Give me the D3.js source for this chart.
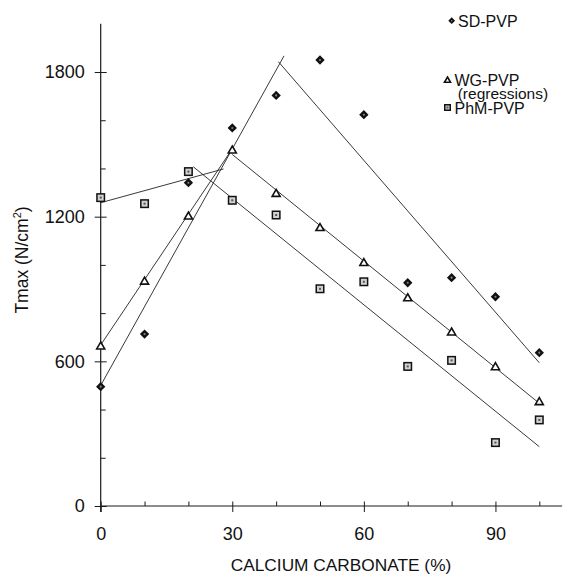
<!DOCTYPE html>
<html>
<head>
<meta charset="utf-8">
<script src="https://cdn.jsdelivr.net/npm/d3@7"></script>
<style>
  html, body { margin: 0; padding: 0; background: #fff; }
  svg { display: block; }
  text { font-family: "Liberation Sans", Arial, Helvetica, sans-serif; fill: #111; }
</style>
</head>
<body>
<svg id="chart" width="575" height="575"></svg>
<script>
// Calcium carbonate content (%) of each formulation
const concentrations = [0, 10, 20, 30, 40, 50, 60, 70, 80, 90, 100];

// Maximum tensile strength Tmax (N/cm²) per binder
const sdValues  = [495, 713, 1341, 1568, 1703, 1850, 1623, 926, 947, 868, 636];
const wgValues  = [661, 930, 1200, 1474, 1294, 1152, 1007, 861, 719, 575, 430];
const phmValues = [1279, 1254, 1387, 1268, 1207, 901, 930, 579, 604, 263, 357];

// Regression segments (rising and falling branch) as [x, Tmax] end points
const sdFit  = [[[0, 500], [41.8, 1867]], [[40.5, 1843], [100, 594]]];
const wgFit  = [[[0, 668], [29.5, 1468]], [[30, 1458], [100, 426]]];
const phmFit = [[[0, 1258], [28, 1398]], [[21.1, 1407], [100, 246]]];

// Axis ticks
const xMajorTicks = [0, 30, 60, 90];
const xMinorTicks = [10, 20, 40, 50, 70, 80, 100];
const yMajorTicks = [0, 600, 1200, 1800];
const yMinorTicks = [200, 400, 800, 1000, 1400, 1600];

const legendLabels = ["SD-PVP", "WG-PVP", "(regressions)", "PhM-PVP"];

const svg = d3.select("#chart");

const x = d3.scaleLinear().domain([0, 100]).range([100.7, 539.3]);
const y = d3.scaleLinear().domain([0, 2000]).range([506, 23.8]);

const axisColor = "#1a1a1a";
const fontFam = '"Liberation Sans", Arial, sans-serif';

// ---- axes ----
const gx = svg.append("g").attr("transform", `translate(0,${y(0)})`);
gx.call(d3.axisBottom(x).tickValues(xMajorTicks).tickFormat(d3.format("d"))
  .tickSizeInner(6).tickSizeOuter(0).tickPadding(15));
gx.select(".domain").remove();
gx.append("line")
  .attr("x1", x(0)).attr("x2", x(105.2))
  .attr("stroke", axisColor).attr("stroke-width", 1);
gx.selectAll(".tick line").attr("stroke", axisColor).attr("y1", -4.5);
gx.selectAll(".tick text").attr("font-size", 18).attr("fill", "#111").style("font-family", fontFam);

const gxMinor = svg.append("g").attr("transform", `translate(0,${y(0)})`);
gxMinor.call(d3.axisBottom(x).tickValues(xMinorTicks).tickSizeInner(-4.5).tickSizeOuter(0).tickFormat(""));
gxMinor.select(".domain").remove();
gxMinor.selectAll(".tick line").attr("stroke", axisColor);

const gy = svg.append("g").attr("transform", `translate(${x(0)},0)`);
gy.call(d3.axisLeft(y).tickValues(yMajorTicks).tickFormat(d3.format("d"))
  .tickSizeInner(6).tickSizeOuter(0).tickPadding(10));
gy.select(".domain").remove();
gy.append("line")
  .attr("y1", y(0)).attr("y2", y(2000))
  .attr("stroke", axisColor).attr("stroke-width", 1.2);
gy.selectAll(".tick line").attr("stroke", axisColor).attr("x2", 6).attr("x1", -6);
gy.selectAll(".tick text").attr("font-size", 18).attr("fill", "#111").style("font-family", fontFam);

const gyMinor = svg.append("g").attr("transform", `translate(${x(0)},0)`);
gyMinor.call(d3.axisLeft(y).tickValues(yMinorTicks).tickSizeInner(-5).tickSizeOuter(0).tickFormat(""));
gyMinor.select(".domain").remove();
gyMinor.selectAll(".tick line").attr("stroke", axisColor);

// x tick at 0 also extends below the axis line
svg.append("line")
  .attr("x1", x(0)).attr("x2", x(0))
  .attr("y1", y(0)).attr("y2", y(0) + 6)
  .attr("stroke", axisColor).attr("stroke-width", 1.2);

// ---- axis titles ----
const yTitle = svg.append("text")
  .attr("transform", `translate(28,260) rotate(-90)`)
  .attr("text-anchor", "middle")
  .attr("font-size", 17.5);
yTitle.append("tspan").text("Tmax (N/cm");
yTitle.append("tspan").attr("font-size", 11).attr("dy", -7).text("2");
yTitle.append("tspan").attr("dy", 7).text(")");

svg.append("text")
  .attr("x", 341).attr("y", 570.5)
  .attr("text-anchor", "middle")
  .attr("font-size", 17.3)
  .text("CALCIUM CARBONATE (%)");

// ---- regression lines ----
const line = d3.line().x(d => x(d[0])).y(d => y(d[1]));
const fits = [sdFit, wgFit, phmFit];
fits.forEach(segs => {
  segs.forEach(seg => {
    svg.append("path")
      .attr("d", line(seg))
      .attr("fill", "none")
      .attr("stroke", "#222")
      .attr("stroke-width", 0.9);
  });
});

// ---- markers ----
const squareSym = d3.symbol().type(d3.symbolSquare);
const triSym = d3.symbol().type(d3.symbolTriangle);

function drawDiamond(g, cx, cy, s) {
  g.append("path")
    .attr("d", squareSym.size(s * s)())
    .attr("transform", `translate(${cx},${cy}) rotate(45)`)
    .attr("fill", "#111");
  g.append("circle").attr("cx", cx).attr("cy", cy).attr("r", s * 0.16).attr("fill", "#888");
}

function drawTriangle(g, cx, cy, s) {
  g.append("path")
    .attr("d", triSym.size(s)())
    .attr("transform", `translate(${cx},${cy})`)
    .attr("fill", "#fff")
    .attr("stroke", "#111")
    .attr("stroke-width", 1.6);
}

function drawSquare(g, cx, cy, s) {
  g.append("rect")
    .attr("x", cx - s / 2).attr("y", cy - s / 2)
    .attr("width", s).attr("height", s)
    .attr("fill", "#d2d2d2")
    .attr("stroke", "#111")
    .attr("stroke-width", 1.5);
  g.append("rect")
    .attr("x", cx - 1).attr("y", cy - 1)
    .attr("width", 2).attr("height", 2)
    .attr("fill", "#555");
}

const marks = svg.append("g");
concentrations.forEach((c, i) => {
  drawSquare(marks, x(c), y(phmValues[i]), 7.5);
});
concentrations.forEach((c, i) => {
  drawTriangle(marks, x(c), y(wgValues[i]), 28);
});
concentrations.forEach((c, i) => {
  drawDiamond(marks, x(c), y(sdValues[i]), 6.6);
});

// ---- legend ----
const lg = svg.append("g");
drawDiamond(lg, 451.7, 20.7, 4.8);
lg.append("text").attr("x", 458).attr("y", 26.7).attr("font-size", 16).text(legendLabels[0]);
drawTriangle(lg, 447.5, 80.5, 16);
lg.append("text").attr("x", 454.5).attr("y", 86.3).attr("font-size", 16).text(legendLabels[1]);
lg.append("text").attr("x", 457.7).attr("y", 99.2).attr("font-size", 15.5).text(legendLabels[2]);
drawSquare(lg, 447.5, 107.5, 5.5);
lg.append("text").attr("x", 454.5).attr("y", 113.5).attr("font-size", 16).text(legendLabels[3]);
</script>
</body>
</html>
